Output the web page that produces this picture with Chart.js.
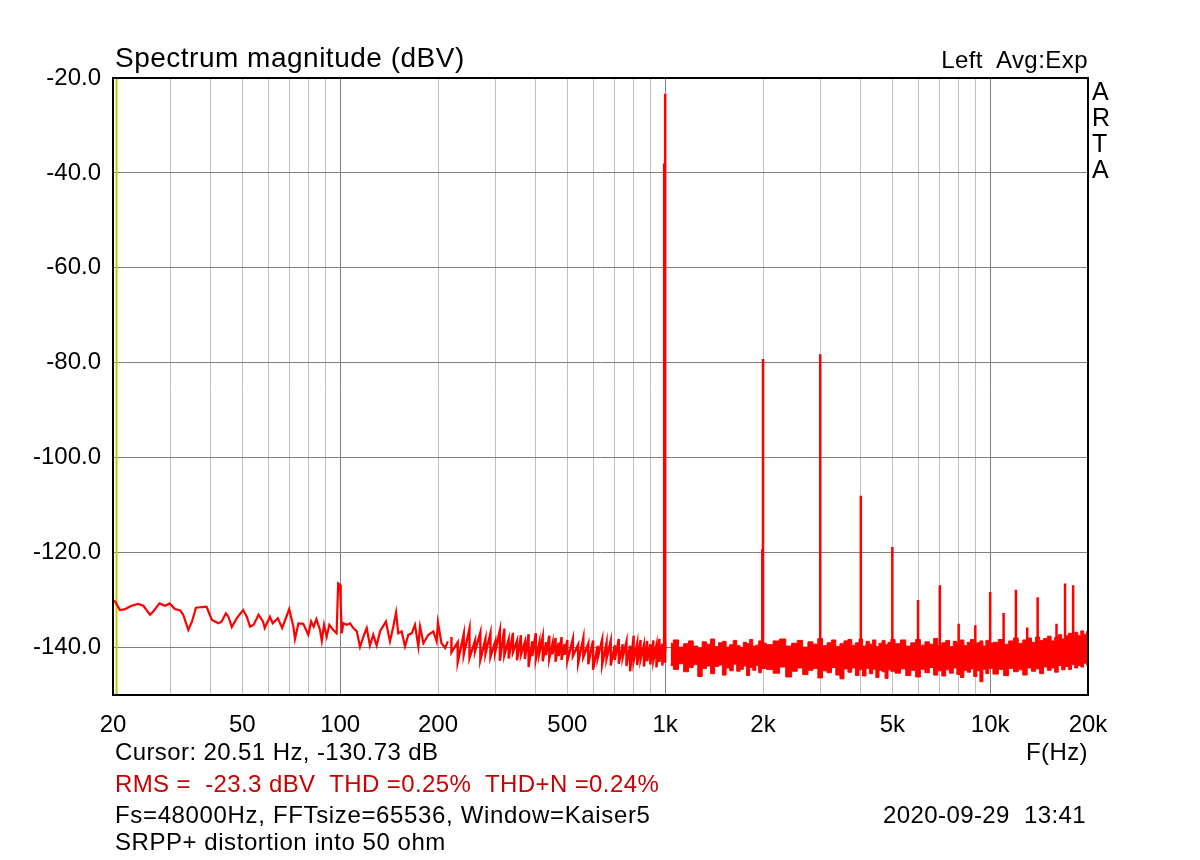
<!DOCTYPE html>
<html>
<head>
<meta charset="utf-8">
<script src="https://cdn.jsdelivr.net/npm/chart.js@4/dist/chart.umd.min.js"></script>
<style>
  body { margin: 0; background: #fff; }
  #wrap { position: relative; width: 1200px; height: 860px; font-family: "Liberation Sans", Arial, sans-serif; color: #000; }
  #wrap div.t { position: absolute; white-space: pre; line-height: 1; font-size: 24px; letter-spacing: 0.4px; }
</style>
</head>
<body>
<div id="wrap">
  <canvas id="spectrum" width="1200" height="860"></canvas>
  <div class="t" style="left:115px; top:44px; font-size:28px; letter-spacing:0.5px;">Spectrum magnitude (dBV)</div>
  <div class="t" style="right:112px; top:48px; letter-spacing:0.45px;">Left  Avg:Exp</div>
  <div class="t" style="left:1092px; top:78px; font-size:25px; line-height:26px; letter-spacing:0;">A<br>R<br>T<br>A</div>
  <div class="t" style="left:115px; top:740px;">Cursor: 20.51 Hz, -130.73 dB</div>
  <div class="t" style="right:112px; top:740px;">F(Hz)</div>
  <div class="t" style="left:115px; top:772px; color:#cc0000;">RMS =  -23.3 dBV  THD =0.25%  THD+N =0.24%</div>
  <div class="t" style="left:115px; top:803px; letter-spacing:0.65px;">Fs=48000Hz, FFTsize=65536, Window=Kaiser5</div>
  <div class="t" style="right:114px; top:803px;">2020-09-29  13:41</div>
  <div class="t" style="left:115px; top:830px; letter-spacing:0.55px;">SRPP+ distortion into 50 ohm</div>
</div>
<script>
// low frequency part of the trace (single line)
const lowFreq = [20, 20.3, 21.0, 21.8, 22.8, 23.9, 24.8, 26.0, 26.6, 27.8, 28.9, 29.9, 31.0, 32.2, 32.9, 34.1, 35.0, 36.0, 38.8, 40.3,
  42.2, 43.2, 44.5, 45.3, 46.4, 48.1, 50.3, 51.6, 52.8, 54.2, 56.1, 57.9, 58.6, 60.8, 62.0, 64.3, 66.3, 67.7, 69.7, 71.8,
  72.6, 74.4, 77.0, 79.8, 81.4, 82.9, 84.5, 86.7, 87.8, 89.2, 90.9, 92.6, 95.2, 97.5, 98.6, 99.9, 100.4, 101.1, 102.3, 104.8,
  107.2, 109.8, 112.5, 115.1, 117.9, 120.7, 123.5, 126.4, 129.5, 132.6, 138.3, 142.3, 145.7, 148.6, 150.9, 154.6, 158.3, 162.1, 166.0, 169.9,
  174.0, 176.1, 180.3, 186.8, 193.5, 198.1, 199.9, 205, 210.4, 214.4]
const lowDb = [-130.0, -130.3, -132.1, -131.9, -131.2, -130.8, -131.2, -133.1, -132.4, -130.7, -131.2, -130.7, -131.9, -132.2, -133.1, -136.3, -134.5, -131.6, -131.4, -134.2,
  -134.9, -134.5, -132.8, -133.5, -135.7, -133.8, -132.1, -133.5, -135.6, -135.2, -133.1, -134.5, -135.9, -133.5, -134.9, -133.8, -135.9, -134.2, -131.9, -135.6,
  -138.2, -134.9, -135.0, -137.3, -134.5, -135.6, -134.0, -136.3, -138.6, -135.2, -137.7, -135.2, -136.3, -137.0, -126.5, -126.8, -130.7, -137.0, -134.9, -135.2,
  -134.9, -135.9, -136.6, -139.9, -137.7, -135.9, -139.6, -137.3, -139.6, -136.6, -134.5, -138.7, -135.6, -132.6, -137.0, -136.6, -139.8, -137.3, -137.0, -135.2,
  -139.8, -135.6, -139.1, -137.3, -136.6, -138.7, -134.7, -139.1, -140.1, -138.7]

// 220 Hz .. 1 kHz: noisy trace, high and low swing at each frequency
const midFreq = [220, 230, 240, 250, 260, 270, 280, 290, 300, 310, 320, 330, 340, 350, 360, 370, 380, 390, 400, 410,
  420, 430, 440, 450, 460, 470, 480, 490, 500,
  520, 540, 560, 580, 600, 620, 640, 660, 680, 700, 720, 740, 760, 780, 800, 820, 840, 860, 880, 900, 920, 940, 960, 980, 1000]
const midTop = [-137.8, -138.9, -137.2, -136.0, -138.6, -136.8, -138.2, -137.0, -138.8, -136.4, -136.0, -138.3, -136.9, -138.6, -137.4, -138.9, -137.2, -138.7, -137.0, -139.0,
  -137.8, -138.9, -137.5, -139.2, -138.0, -139.0, -137.8, -139.3, -138.4,
  -138.2, -139.4, -138.0, -139.2, -138.5, -139.6, -138.3, -139.1, -138.6, -139.5, -138.2, -139.3, -138.8, -139.6, -137.5, -139.2, -138.4, -139.5, -138.6, -139.3, -138.5, -139.6, -138.2, -139.2, -138.6]
const midBottom = [-141.0, -143.0, -141.5, -142.2, -140.8, -142.6, -141.3, -142.0, -140.9, -142.8, -141.6, -142.3, -141.0, -142.7, -141.5, -142.4, -144.1, -141.8, -142.5, -141.2,
  -142.9, -141.6, -142.3, -141.4, -143.0, -141.8, -142.6, -141.5, -142.8,
  -141.8, -143.2, -142.0, -143.5, -144.7, -142.2, -143.6, -142.4, -143.8, -142.6, -143.4, -142.1, -143.9, -145.0, -142.8, -143.7, -142.5, -144.0, -142.9, -143.6, -142.7, -144.2, -143.0, -143.8, -143.2]

// 1 kHz .. 20 kHz: dense noise floor, upper and lower edge of the band
const highFreq = [1040, 1080, 1120, 1160, 1200, 1240, 1280, 1320, 1360, 1400, 1440, 1480, 1520, 1560, 1600, 1640, 1680, 1720, 1760, 1800, 1840, 1880, 1920, 1960, 2000,
  2100, 2200, 2300, 2400, 2500, 2600, 2700, 2800, 2900, 3000, 3100, 3200, 3300, 3400, 3500, 3600, 3700, 3800, 3900, 4000,
  4100, 4200, 4300, 4400, 4500, 4600, 4700, 4800, 4900, 5000,
  5200, 5400, 5600, 5800, 6000, 6200, 6400, 6600, 6800, 7000, 7200, 7400, 7600, 7800, 8000, 8200, 8400, 8600, 8800, 9000, 9200, 9400, 9600, 9800, 10000,
  10400, 10800, 11200, 11600, 12000, 12400, 12800, 13200, 13600, 14000, 14400, 14800, 15200, 15600, 16000, 16400, 16800, 17200, 17600, 18000, 18400, 18800, 19200, 19600, 20000]
const highTop = [-139.1, -138.4, -139.9, -139.2, -138.6, -139.7, -140.1, -138.8, -139.3, -138.2, -139.8, -139.0, -138.7, -139.9, -139.4, -138.5, -139.6, -140.0, -138.9, -139.2, -138.3, -139.7, -139.5, -138.6, -139.1,
  -139.4, -138.6, -138.2, -139.7, -139.1, -138.5, -139.9, -138.8, -139.3, -138.1, -139.6, -139.0, -138.4, -139.8, -139.2, -138.6, -138.3, -139.5, -139.0, -138.2,
  -139.7, -138.7, -139.3, -138.4, -139.8, -139.1, -138.5, -139.4, -138.9, -138.3,
  -139.2, -138.4, -139.7, -139.0, -138.3, -139.5, -138.8, -139.3, -138.1, -139.6, -139.0, -138.5, -139.8, -138.7, -139.2, -138.4, -139.6, -138.9, -138.3, -139.4, -139.0, -138.6, -139.7, -138.5, -139.1,
  -138.9, -138.3, -139.3, -138.6, -138.0, -139.1, -138.4, -138.0, -138.9, -137.8, -138.5, -138.1, -137.6, -138.6, -137.9, -137.3, -138.2, -137.5, -137.0, -137.9, -136.8, -137.5, -136.5, -137.2, -136.6]
const highBottom = [-143.8, -144.6, -143.4, -145.1, -144.2, -143.6, -146.1, -144.4, -143.9, -145.5, -144.0, -143.7, -145.8, -144.3, -144.9, -143.5, -145.0, -144.6, -143.9, -145.9, -144.2, -144.8, -143.8, -145.3, -144.4,
  -144.6, -145.4, -144.1, -146.2, -145.0, -144.3, -145.7, -144.8, -144.4, -146.4, -144.9, -145.3, -144.2, -145.8, -146.6, -144.5, -145.2, -144.3, -145.9, -144.7,
  -146.0, -144.4, -145.5, -144.6, -146.3, -144.8, -145.1, -146.5, -144.7, -145.0,
  -145.4, -144.5, -145.9, -144.8, -146.2, -144.6, -145.3, -144.2, -145.8, -144.9, -146.0, -144.7, -145.4, -144.3, -145.7, -146.3, -144.8, -145.2, -144.5, -146.1, -144.9, -147.2, -144.6, -145.5, -144.4,
  -145.6, -144.6, -145.9, -144.4, -145.1, -144.7, -145.8, -144.3, -145.0, -144.5, -145.5, -144.1, -144.8, -144.3, -145.2, -143.8, -144.7, -144.0, -144.6, -143.6, -144.3, -143.8, -144.1, -143.3, -143.7]

// fundamental, harmonics and window leakage lines
const spikeFreq = [993, 1000, 1990, 2000, 3000, 4000, 5000, 6000, 7000, 8000, 9000, 10000, 11000, 12000, 13000, 14000, 16000, 17000, 18000]
const spikeDb = [-38.0, -23.3, -119.3, -79.2, -78.2, -108.0, -118.8, -130.0, -126.9, -135.0, -135.3, -128.3, -132.7, -127.8, -135.8, -129.4, -135.0, -126.5, -126.9]
const spikeBase = -141

const cursorFreq = 20.51

const xGrid = [20, 30, 40, 50, 60, 70, 80, 90, 100, 200, 300, 400, 500, 600, 700, 800, 900,
  1000, 2000, 3000, 4000, 5000, 6000, 7000, 8000, 9000, 10000, 20000]
const xMajor = [100, 1000, 10000]
const xLabels = {20: '20', 50: '50', 100: '100', 200: '200', 500: '500', 1000: '1k', 2000: '2k', 5000: '5k', 10000: '10k', 20000: '20k'}
const yTicks = [-140, -120, -100, -80, -60, -40, -20]

const lowTrace = lowFreq.map((f, i) => ({x: f, y: lowDb[i]}))
const midTrace = []
midFreq.forEach((f, i) => {
    midTrace.push({x: f, y: midTop[i]}, {x: f, y: midBottom[i]})
})
const topEdge = highFreq.map((f, i) => ({x: f, y: highTop[i]}))
const bottomEdge = highFreq.map((f, i) => ({x: f, y: highBottom[i]}))
const spikes = []
spikeFreq.forEach((f, i) => {
    spikes.push({x: f, y: spikeBase}, {x: f, y: spikeDb[i]}, {x: f, y: null})
})

const frame = {
    id: 'frame',
    afterDraw(chart) {
        const a = chart.chartArea
        const ctx = chart.ctx
        ctx.save()
        ctx.strokeStyle = '#000'
        ctx.lineWidth = 2
        ctx.strokeRect(a.left, a.top, a.right - a.left, a.bottom - a.top)
        ctx.restore()
    }
}

const font = {family: '"Liberation Sans", Arial, sans-serif', size: 24}

new Chart(document.getElementById('spectrum'), {
    type: 'line',
    data: {
        datasets: [
            {data: lowTrace, borderColor: '#ff0000', borderWidth: 2.2, pointRadius: 0},
            {data: midTrace, borderColor: '#ff0000', borderWidth: 2.4, pointRadius: 0},
            {data: topEdge, borderColor: '#ff0000', borderWidth: 1, pointRadius: 0, stepped: 'middle', fill: false},
            {data: bottomEdge, borderColor: '#ff0000', backgroundColor: '#ff0000', borderWidth: 1, pointRadius: 0, stepped: 'middle', fill: '-1'},
            {data: spikes, borderColor: '#ff0000', borderWidth: 2.5, pointRadius: 0, spanGaps: false},
            {data: [{x: cursorFreq, y: -150}, {x: cursorFreq, y: -20}], borderColor: '#c8c800', borderWidth: 2, pointRadius: 0}
        ]
    },
    options: {
        responsive: false,
        animation: false,
        layout: {padding: {left: 0, top: 78, right: 112, bottom: 0}},
        plugins: {legend: {display: false}, tooltip: {enabled: false}},
        scales: {
            x: {
                type: 'logarithmic',
                min: 20,
                max: 20000,
                afterBuildTicks: s => { s.ticks = xGrid.map(v => ({value: v})) },
                afterFit: s => { s.height = 165 },
                border: {display: false},
                grid: {
                    drawTicks: false,
                    lineWidth: 1,
                    color: c => xMajor.includes(c.tick && c.tick.value) ? '#808080' : '#c0c0c0'
                },
                ticks: {
                    autoSkip: false,
                    maxRotation: 0,
                    padding: 16,
                    color: '#000',
                    font: font,
                    callback: v => xLabels[v] || ''
                }
            },
            y: {
                min: -150,
                max: -20,
                afterBuildTicks: s => { s.ticks = yTicks.map(v => ({value: v})) },
                afterFit: s => { s.width = 113 },
                border: {display: false},
                grid: {drawTicks: false, color: '#808080', lineWidth: 1},
                ticks: {padding: 12, color: '#000', font: font, callback: v => v.toFixed(1)}
            }
        }
    },
    plugins: [frame]
})
</script>
</body>
</html>
